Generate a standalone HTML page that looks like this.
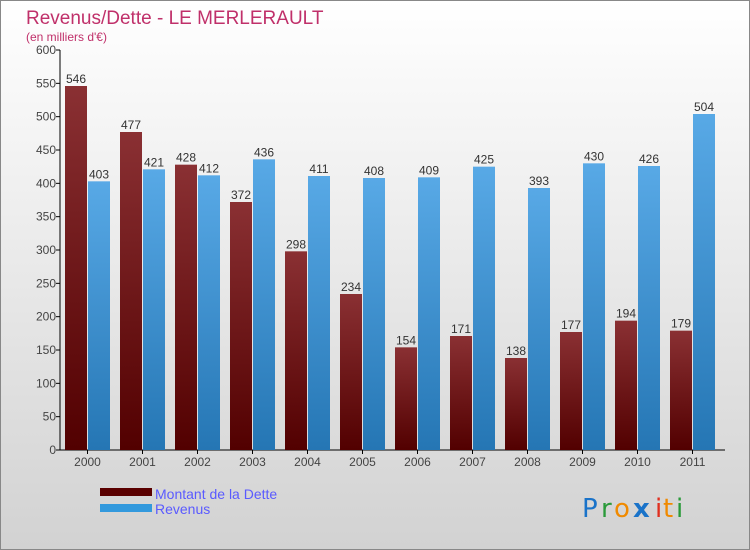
<!DOCTYPE html>
<html><head><meta charset="utf-8"><style>
body{margin:0;}
svg{display:block;font-family:"Liberation Sans",sans-serif;}
</style></head><body>
<svg id="chart" width="750" height="550" viewBox="0 0 750 550">
<defs>
<linearGradient id="bg" x1="0" y1="0" x2="0" y2="1"><stop offset="0" stop-color="#ffffff"/><stop offset="1" stop-color="#d2d2d2"/></linearGradient>
<linearGradient id="gd" x1="0" y1="0" x2="0" y2="1"><stop offset="0" stop-color="#8a3033"/><stop offset="1" stop-color="#520000"/></linearGradient>
<linearGradient id="gr" x1="0" y1="0" x2="0" y2="1"><stop offset="0" stop-color="#58a9e6"/><stop offset="1" stop-color="#2576b4"/></linearGradient>
</defs>
<rect x="0.5" y="0.5" width="749" height="549" fill="url(#bg)" stroke="#888"/>
<text x="26" y="24" font-size="19" fill="#c0306a">Revenus/Dette - LE MERLERAULT</text>
<text x="26" y="41" font-size="12" fill="#c0306a">(en milliers d'€)</text>
<g id="axes"></g>
<g id="bars"></g>
<rect x="100" y="488" width="52" height="8" fill="#5a0000"/>
<text x="155" y="499" font-size="14" fill="#5a5aff">Montant de la Dette</text>
<rect x="100" y="504" width="52" height="8" fill="#3399dd"/>
<text x="155" y="514" font-size="14" fill="#5a5aff">Revenus</text>
<g font-size="26" font-family="'DejaVu Sans',sans-serif">
<text x="582" y="517" fill="#1a73c9">P</text><text x="601" y="517" fill="#2a9a3a">r</text><text x="614" y="517" fill="#f08a00">o</text><text x="633" y="517" fill="#1a73c9" font-weight="bold">x</text><text x="655" y="517" fill="#e03020">i</text><text x="663" y="517" fill="#f08a00">t</text><text x="676" y="517" fill="#2a9a3a">i</text>
</g>
</svg>
<script>
const categories=["2000","2001","2002","2003","2004","2005","2006","2007","2008","2009","2010","2011"];
const dette=[546,477,428,372,298,234,154,171,138,177,194,179];
const revenus=[403,421,412,436,411,408,409,425,393,430,426,504];
const ticks=[0,50,100,150,200,250,300,350,400,450,500,550,600];
const NS="http://www.w3.org/2000/svg";
const x0=60,slot=55,yBase=450,yTop=50,maxV=600;
function y(v){return yBase-(v/maxV)*(yBase-yTop);}
function xs(i){return x0+i*slot;}
function mk(tag,attrs,parent){const e=document.createElementNS(NS,tag);for(const k in attrs)e.setAttribute(k,attrs[k]);parent.appendChild(e);return e;}
const axes=document.getElementById('axes'),bars=document.getElementById('bars');
const ya=mk('line',{x1:x0,y1:yTop,x2:x0,y2:yBase,stroke:'#000'},axes);


const xa=mk('line',{x1:x0,y1:yBase,x2:725,y2:yBase,stroke:'#000'},axes);


ticks.forEach(t=>{
  mk('line',{x1:x0-4,y1:y(t),x2:x0,y2:y(t),stroke:'#000'},axes);
  const tx=mk('text',{x:x0-4,y:y(t)+4,'font-size':12,fill:'#444','text-anchor':'end'},axes);
  tx.textContent=t;
  
  
});
categories.forEach((c,i)=>{
  const cx=xs(i)+27.5;
  mk('line',{x1:cx,y1:yBase,x2:cx,y2:yBase+4,stroke:'#000'},axes);
  const tx=mk('text',{x:cx,y:yBase+16,'font-size':12,fill:'#444','text-anchor':'middle'},axes);
  tx.textContent=c;
  
  
  const b1=mk('rect',{x:cx-22.5,y:y(dette[i]),width:22,height:yBase-y(dette[i]),fill:'url(#gd)'},bars);
  
  
  const b2=mk('rect',{x:cx+0.5,y:y(revenus[i]),width:22,height:yBase-y(revenus[i]),fill:'url(#gr)'},bars);
  
  
  const l1=mk('text',{x:cx-11.5,y:y(dette[i])-3,'font-size':12,fill:'#333','text-anchor':'middle'},bars);
  l1.textContent=dette[i];
  
  
  const l2=mk('text',{x:cx+11.5,y:y(revenus[i])-3,'font-size':12,fill:'#333','text-anchor':'middle'},bars);
  l2.textContent=revenus[i];
  
  
});
</script>
</body></html>
